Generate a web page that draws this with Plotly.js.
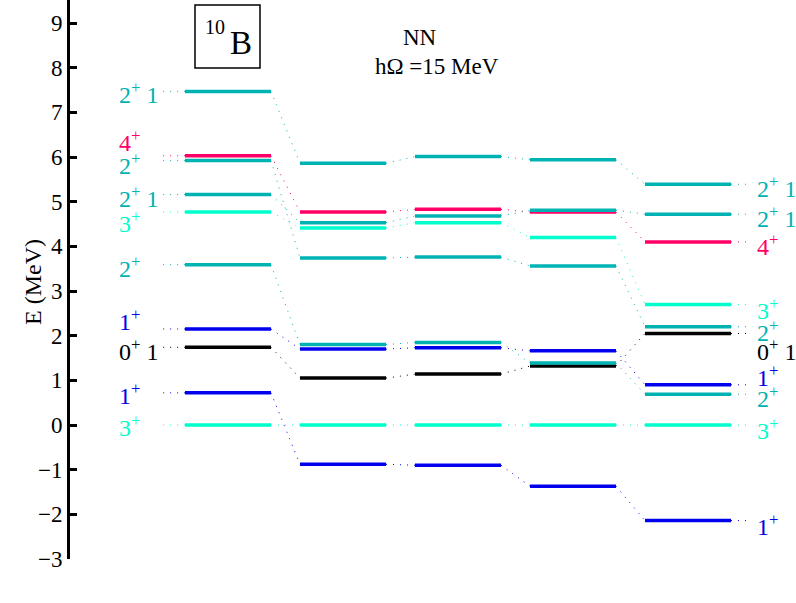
<!DOCTYPE html>
<html>
<head>
<meta charset="utf-8">
<script src="https://cdn.plot.ly/plotly-3.0.1.min.js"></script>
<style>html,body{margin:0;padding:0;background:#fff;}#plot{width:796px;height:603px;}</style>
</head>
<body>
<div id="plot"></div>
<script>
// ---- data ----
const columns = ["Exp", "6hΩ", "4hΩ", "2hΩ", "0hΩ"];
const stateLabels = ["3<sup>+</sup>", "1<sup>+</sup>", "0<sup>+</sup> 1", "1<sup>+</sup>", "2<sup>+</sup>",
                     "3<sup>+</sup>", "2<sup>+</sup> 1", "2<sup>+</sup>", "4<sup>+</sup>", "2<sup>+</sup> 1"];
const level3p1  = [0.00, 0.00, 0.00, 0.00, 0.00];
const level1p1  = [0.72, -0.88, -0.90, -1.37, -2.14];
const level0p1  = [1.74, 1.05, 1.14, 1.32, 2.05];
const level1p2  = [2.15, 1.70, 1.73, 1.66, 0.90];
const level2p1  = [3.59, 1.80, 1.85, 1.39, 0.69];
const level3p2  = [4.77, 4.41, 4.53, 4.20, 2.70];
const level2p1a = [5.16, 4.53, 4.68, 4.81, 4.72];
const level2p2  = [5.92, 3.74, 3.76, 3.56, 2.20];
const level4p1  = [6.03, 4.77, 4.83, 4.77, 4.10];
const level2p1b = [7.47, 5.86, 6.01, 5.94, 5.39];
const yTicks = [-3, -2, -1, 0, 1, 2, 3, 4, 5, 6, 7, 8, 9];

// ---- styling / layout helpers ----
const TEAL = "#00b3b3", AQUA = "#00ffcc", MAG = "#ff0066", BLUE = "#0000ee", BLACK = "#000000";
const seriesList = [
  {v: level3p1, c: AQUA}, {v: level1p1, c: BLUE}, {v: level0p1, c: BLACK}, {v: level1p2, c: BLUE},
  {v: level2p1, c: TEAL}, {v: level3p2, c: AQUA}, {v: level2p1a, c: TEAL}, {v: level2p2, c: TEAL},
  {v: level4p1, c: MAG}, {v: level2p1b, c: TEAL}
];
// label vertical offsets in px (positive = down)
const leftShift  = [1, 1, 3, -9, 2, 10, 2, 3, -15, 2];
const rightShift = [4, 4, 17, -9, 3, 5, 3, 4, 3, 3];
const drawOrder = [0, 1, 3, 2, 8, 5, 4, 6, 7, 9];

const HW = 0.374;       // half width of level line (column units)
const PXU = 115;        // px per column unit
const PXE = 44.63;      // px per MeV
const px2x = p => (p - 228) / PXU;
const py2y = p => (424.7 - p) / PXE;
const FONT = "Liberation Serif, Times New Roman, serif";

const traces = [];
drawOrder.forEach(si => {
  const s = seriesList[si];
  const n = s.v.length;
  const dx = [], dy = [];
  dx.push(-HW - 0.19, -HW); dy.push(s.v[0], s.v[0]); dx.push(null); dy.push(null);
  for (let i = 0; i < n - 1; i++) {
    dx.push(i + HW, i + 1 - HW); dy.push(s.v[i], s.v[i + 1]); dx.push(null); dy.push(null);
  }
  dx.push(n - 1 + HW, n - 1 + HW + 0.16); dy.push(s.v[n - 1], s.v[n - 1]);
  traces.push({x: dx, y: dy, mode: "lines", line: {color: s.c, width: 1, dash: "1px,6px"},
               hoverinfo: "skip", showlegend: false, connectgaps: false});
});
drawOrder.forEach(si => {
  const s = seriesList[si];
  const sx = [], sy = [];
  s.v.forEach((e, i) => { sx.push(i - HW, i + HW, null); sy.push(e, e, null); });
  traces.push({x: sx, y: sy, mode: "lines", line: {color: s.c, width: 3.5},
               hoverinfo: "skip", showlegend: false, connectgaps: false});
});

const annotations = [];
seriesList.forEach((s, si) => {
  annotations.push({x: px2x(117), y: s.v[0], xref: "x", yref: "y", xanchor: "left", yanchor: "middle",
    text: stateLabels[si], showarrow: false, yshift: -leftShift[si],
    font: {family: FONT, size: 24, color: s.c}});
  annotations.push({x: px2x(755), y: s.v[s.v.length - 1], xref: "x", yref: "y", xanchor: "left", yanchor: "middle",
    text: stateLabels[si], showarrow: false, yshift: -rightShift[si],
    font: {family: FONT, size: 24, color: s.c}});
});
const colLabelPx = [224, 332, 439, 545, 653];
columns.forEach((c, i) => {
  annotations.push({x: px2x(colLabelPx[i]), y: py2y(585), xref: "x", yref: "y", xanchor: "center", yanchor: "middle",
    text: c, showarrow: false, font: {family: FONT, size: 23, color: "#000"}});
});
annotations.push({x: px2x(215), y: py2y(27), xref: "x", yref: "y", text: "10", showarrow: false,
  font: {family: FONT, size: 20, color: "#000"}});
annotations.push({x: px2x(241), y: py2y(43), xref: "x", yref: "y", text: "B", showarrow: false,
  font: {family: FONT, size: 33, color: "#000"}});
annotations.push({x: px2x(420), y: py2y(37), xref: "x", yref: "y", text: "NN", showarrow: false,
  font: {family: FONT, size: 23, color: "#000"}});
annotations.push({x: px2x(437), y: py2y(66), xref: "x", yref: "y", text: "hΩ =15 MeV", showarrow: false,
  font: {family: FONT, size: 23, color: "#000"}});
annotations.push({x: -52 / 726, y: 1 - 282 / 559, xref: "paper", yref: "paper", text: "E (MeV)", textangle: -90,
  showarrow: false, font: {family: FONT, size: 24, color: "#000"}});

const layout = {
  width: 796, height: 603,
  margin: {l: 70, r: 0, t: 0, b: 44},
  paper_bgcolor: "#fff", plot_bgcolor: "#fff",
  xaxis: {range: [px2x(70), px2x(796)], visible: false, fixedrange: true},
  yaxis: {range: [-3, py2y(0)], tickvals: yTicks, ticks: "inside", ticklen: 7, tickwidth: 3,
          tickcolor: "#000", showline: true, linewidth: 3, linecolor: "#000", showgrid: false,
          zeroline: false, tickfont: {family: FONT, size: 23, color: "#000"}, fixedrange: true},
  shapes: [{type: "rect", xref: "x", yref: "y", x0: px2x(195), x1: px2x(260), y0: py2y(68), y1: py2y(5),
            line: {color: "#000", width: 1.5}}],
  annotations: annotations,
  showlegend: false
};
Plotly.newPlot("plot", traces, layout, {displayModeBar: false, staticPlot: true});
</script>
</body>
</html>
